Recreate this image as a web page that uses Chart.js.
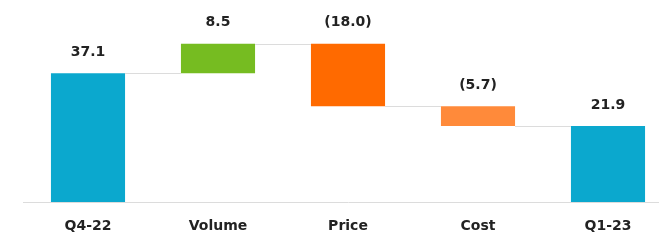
<!DOCTYPE html>
<html>
<head>
<meta charset="utf-8">
<script src="https://cdn.jsdelivr.net/npm/chart.js@4"></script>
<style>
  html, body { margin: 0; padding: 0; background: #fff; overflow: hidden; width: 659px; height: 240px; }
  #wrap { width: 690px; height: 240px; }
</style>
</head>
<body>
<div id="wrap"><canvas id="c" width="690" height="240"></canvas></div>
<script>
const categories = ["Q4-22", "Volume", "Price", "Cost", "Q1-23"];
const values = [37.1, 8.5, -18.0, -5.7, 21.9];
const isTotal = [true, false, false, false, true];
const barColors = ["#0BA8CE", "#76BC21", "#FF6A00", "#FF8A3A", "#0BA8CE"];

// build floating ranges from the values
const ranges = [];
let running = 0;
values.forEach((v, i) => {
  if (isTotal[i]) { ranges.push([0, v]); running = v; }
  else { ranges.push([running, running + v]); running += v; }
});

const fmt = v => v < 0 ? "(" + Math.abs(v).toFixed(1) + ")" : v.toFixed(1);
const FONT = "'DejaVu Sans', sans-serif";

const waterfallPlugin = {
  id: "waterfall",
  afterDatasetsDraw(chart) {
    const ctx = chart.ctx;
    const meta = chart.getDatasetMeta(0);
    const y = chart.scales.y;
    ctx.save();
    // connectors
    ctx.strokeStyle = "#DCDCDC";
    ctx.lineWidth = 1;
    for (let i = 0; i < meta.data.length - 1; i++) {
      const a = meta.data[i], b = meta.data[i + 1];
      const level = ranges[i][1];
      const py = Math.round(y.getPixelForValue(level)) + 0.5;
      ctx.beginPath();
      ctx.moveTo(a.x + a.width / 2, py);
      ctx.lineTo(b.x - b.width / 2, py);
      ctx.stroke();
    }
    // value labels
    ctx.fillStyle = "#222";
    ctx.font = "bold 14px " + FONT;
    ctx.textAlign = "center";
    ctx.textBaseline = "middle";
    meta.data.forEach((bar, i) => {
      const top = y.getPixelForValue(Math.max(ranges[i][0], ranges[i][1]));
      ctx.fillText(fmt(values[i]), bar.x, top - 21);
    });
    ctx.restore();
  }
};

new Chart(document.getElementById("c"), {
  type: "bar",
  data: {
    labels: categories,
    datasets: [{
      data: ranges,
      backgroundColor: barColors,
      borderWidth: 0,
      categoryPercentage: 1.0,
      barPercentage: 0.57
    }]
  },
  options: {
    responsive: false,
    animation: false,
    layout: { padding: { left: 23, right: 17, top: 11, bottom: 7 } },
    plugins: { legend: { display: false }, tooltip: { enabled: false } },
    scales: {
      x: {
        grid: { display: false, drawTicks: false },
        border: { display: true, color: "#DCDCDC", width: 1 },
        ticks: { color: "#222", font: { family: FONT, size: 14, weight: "bold" }, padding: 16, maxRotation: 0 },
        afterFit(scale) { scale.height = 31; }
      },
      y: {
        display: false,
        min: 0,
        max: 55
      }
    }
  },
  plugins: [waterfallPlugin]
});
</script>
</body>
</html>
